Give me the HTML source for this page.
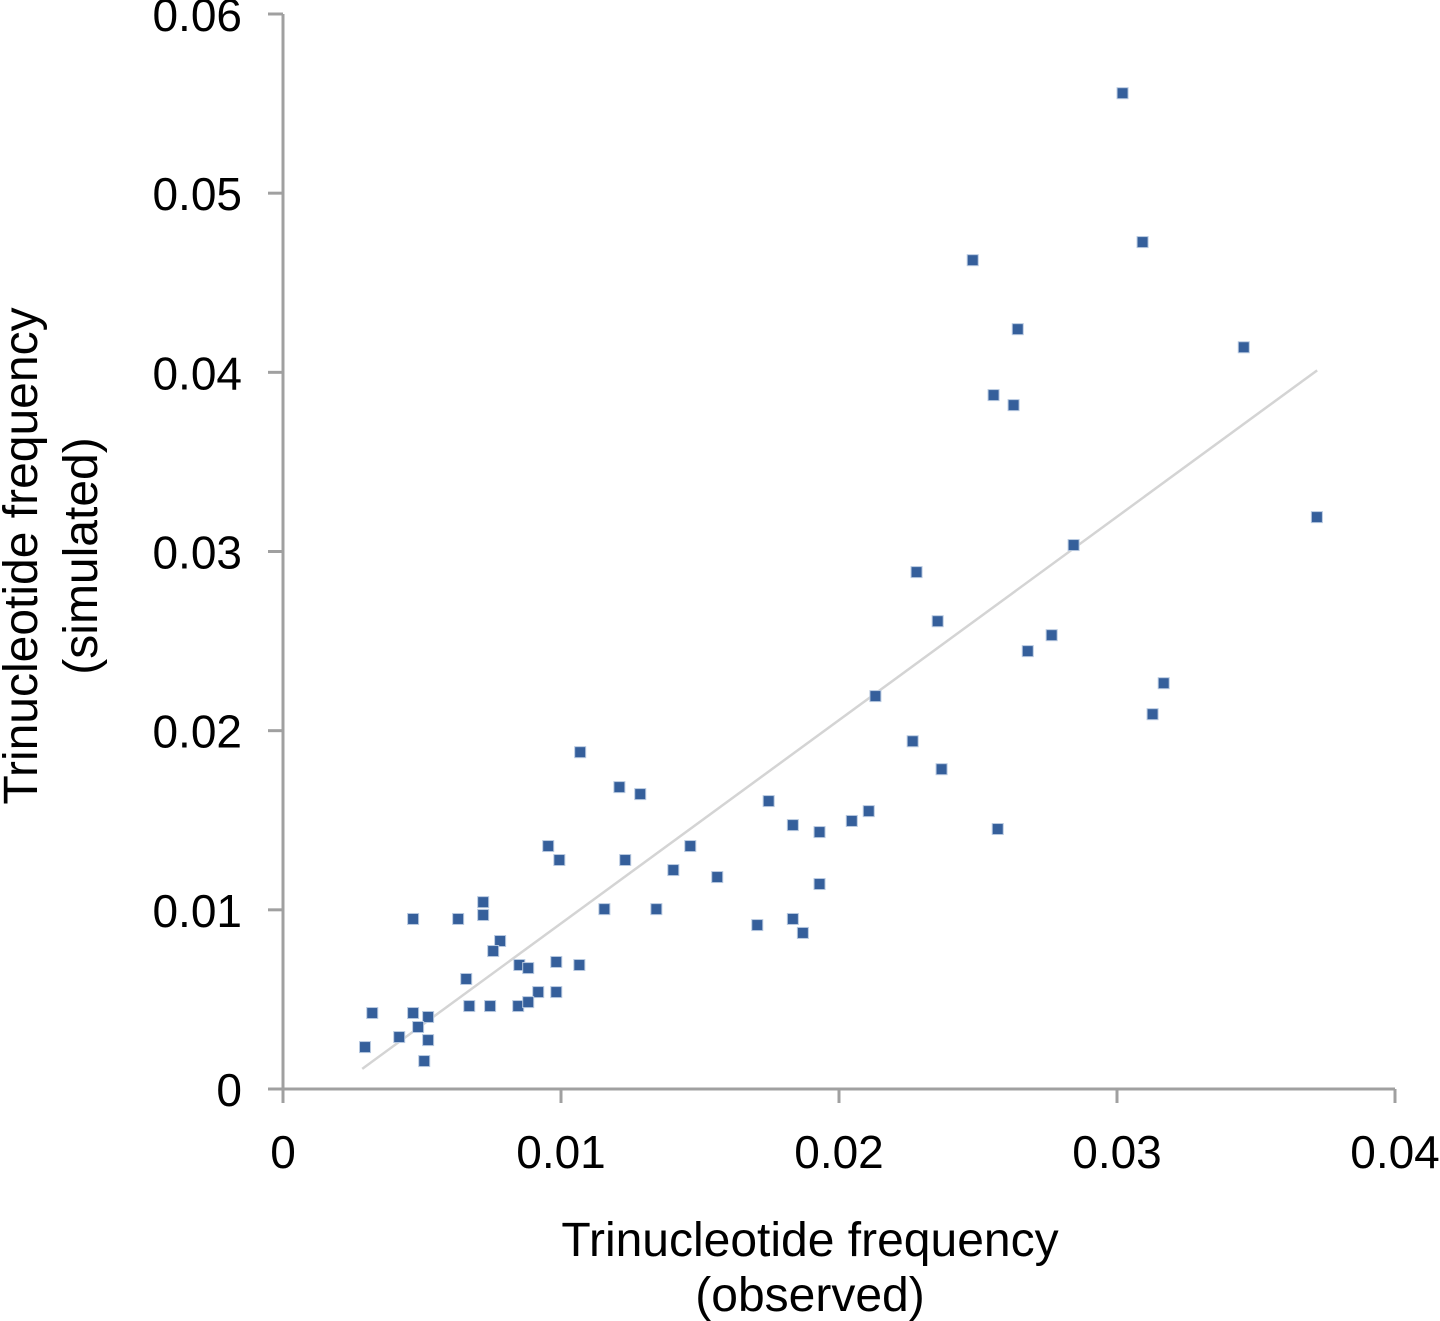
<!DOCTYPE html>
<html><head><meta charset="utf-8"><style>
body{margin:0;background:#fff;}
svg{display:block;font-family:"Liberation Sans",sans-serif;}
</style></head><body>
<svg id="chart" width="1440" height="1321" viewBox="0 0 1440 1321">
<g id="axes"></g><g id="trend"></g><g id="pts"></g>
<text x="810" y="1256" font-size="48" text-anchor="middle" fill="#000">Trinucleotide frequency</text>
<text x="810" y="1311" font-size="48" text-anchor="middle" fill="#000">(observed)</text>
<text transform="translate(37,556) rotate(-90)" font-size="48" text-anchor="middle" fill="#000">Trinucleotide frequency</text>
<text transform="translate(97,556) rotate(-90)" font-size="48" text-anchor="middle" fill="#000">(simulated)</text>
</svg>
<script>
const xTicks=[0,0.01,0.02,0.03,0.04];
const yTicks=[0,0.01,0.02,0.03,0.04,0.05,0.06];
const xTickLabels=["0","0.01","0.02","0.03","0.04"];
const yTickLabels=["0","0.01","0.02","0.03","0.04","0.05","0.06"];
const obsX=[0.03020,0.03092,0.02481,0.02643,0.03456,0.02556,0.02628,0.03719,0.02844,0.02279,0.02355,0.02765,0.02679,0.03168,0.02131,0.03128,0.02265,0.01069,0.02369,0.01210,0.01285,0.01747,0.01834,0.02107,0.02046,0.01930,0.02571,0.00954,0.01465,0.00994,0.01231,0.01404,0.01562,0.01930,0.01156,0.01343,0.00720,0.00468,0.00630,0.00720,0.01706,0.01834,0.01870,0.00781,0.00756,0.00850,0.00882,0.00983,0.01066,0.00659,0.00918,0.00983,0.00670,0.00745,0.00846,0.00882,0.00321,0.00468,0.00522,0.00486,0.00418,0.00522,0.00295,0.00508];
const simY=[0.05558,0.04727,0.04626,0.04241,0.04140,0.03873,0.03817,0.03192,0.03036,0.02885,0.02611,0.02533,0.02444,0.02265,0.02193,0.02092,0.01941,0.01880,0.01785,0.01685,0.01646,0.01607,0.01473,0.01551,0.01496,0.01434,0.01451,0.01356,0.01356,0.01278,0.01278,0.01222,0.01183,0.01144,0.01004,0.01004,0.01043,0.00949,0.00949,0.00971,0.00915,0.00949,0.00871,0.00826,0.00770,0.00692,0.00675,0.00709,0.00692,0.00614,0.00541,0.00541,0.00463,0.00463,0.00463,0.00485,0.00424,0.00424,0.00402,0.00346,0.00290,0.00273,0.00234,0.00156];
const trendSlope=[1.135];
const trendIntercept=[-0.00211];
const trendRange=[0.00285,0.0372];
const NS="http://www.w3.org/2000/svg";
const X0=283,X1=1395,Y0=1089,Y1=14;
const sx=v=>X0+(v-0)/0.04*(X1-X0);
const sy=v=>Y0-(v-0)/0.06*(Y0-Y1);
function mk(tag,attrs,parent){const e=document.createElementNS(NS,tag);for(const k in attrs)e.setAttribute(k,attrs[k]);parent.appendChild(e);return e;}
const axes=document.getElementById('axes');
let l=mk('line',{x1:X0,y1:Y1,x2:X0,y2:Y0,stroke:'#a0a0a0','stroke-width':3},axes);


l=mk('line',{x1:X0,y1:Y0,x2:X1,y2:Y0,stroke:'#a0a0a0','stroke-width':3},axes);


yTicks.forEach((v,i)=>{
 const y=sy(v);
 const t=mk('line',{x1:268,y1:y,x2:X0,y2:y,stroke:'#a0a0a0','stroke-width':3},axes);
 
 
 const tx=mk('text',{x:242,y:y+17,'font-size':46,'text-anchor':'end',fill:'#000'},axes);
 tx.textContent=yTickLabels[i];
 
 
});
xTicks.forEach((v,i)=>{
 const x=sx(v);
 const t=mk('line',{x1:x,y1:Y0,x2:x,y2:1103,stroke:'#a0a0a0','stroke-width':3},axes);
 
 
 const tx=mk('text',{x:x,y:1168,'font-size':46,'text-anchor':'middle',fill:'#000'},axes);
 tx.textContent=xTickLabels[i];
 
 
});
const tg=document.getElementById('trend');
const tl=mk('line',{x1:sx(trendRange[0]),y1:sy(trendSlope[0]*trendRange[0]+trendIntercept[0]),x2:sx(trendRange[1]),y2:sy(trendSlope[0]*trendRange[1]+trendIntercept[0]),stroke:'#d4d4d4','stroke-width':2.5},tg);


const pg=document.getElementById('pts');
obsX.forEach((v,i)=>{
 const r=mk('rect',{x:sx(v)-5.5,y:sy(simY[i])-5.5,width:11,height:11,fill:'#355f9b',stroke:'#b8c9e0','stroke-width':1},pg);
 
 
});
</script>
</body></html>
